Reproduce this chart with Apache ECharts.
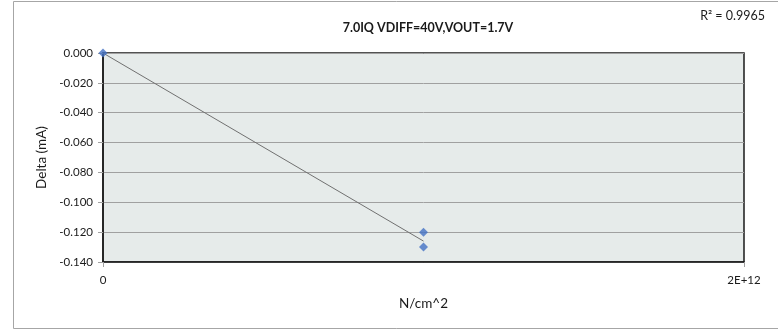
<!DOCTYPE html>
<html>
<head>
<meta charset="utf-8">
<script src="https://cdn.jsdelivr.net/npm/echarts@6/dist/echarts.min.js"></script>
<style>
html,body{margin:0;padding:0;background:#fff;}
#chart{width:778px;height:333px;}
</style>
</head>
<body>
<div id="chart"></div>
<script>
// Data
const pointX = [0, 1e12, 1e12];
const pointY = [0.000, -0.120, -0.130];
const trendX = [0, 1e12];
const trendY = [0.000, -0.126];
const chartTitle = '7.0IQ VDIFF=40V,VOUT=1.7V';
const rSquaredText = 'R² = 0.9965';
const yAxisName = 'Delta (mA)';
const xAxisName = 'N/cm^2';
const xTickLabels = {0: '0', 2000000000000: '2E+12'};

const FONT = 'Lato, "Open Sans", sans-serif';
const chart = echarts.init(document.getElementById('chart'));
chart.setOption({
  animation: false,
  backgroundColor: '#fff',
  textStyle: {fontFamily: FONT},
  title: [
    {text: chartTitle, left: 423, top: 16, textAlign: 'center',
     textStyle: {fontFamily: FONT, fontSize: 12.5, fontWeight: 'bold', color: '#1a1a1a'}},
    {text: rSquaredText, right: 8, top: 4,
     textStyle: {fontFamily: FONT, fontSize: 12.5, fontWeight: 'normal', color: '#1a1a1a'}}
  ],
  graphic: [
    {type: 'rect', shape: {x: 13.5, y: 1.5, width: 800, height: 327},
     style: {fill: 'none', stroke: '#a6a6a6', lineWidth: 1}, silent: true, z: -1}
  ],
  grid: {left: 103, top: 53, width: 641, height: 209, show: true,
         backgroundColor: '#e6ebea', borderColor: '#1a1a1a', borderWidth: 1.5},
  xAxis: {
    type: 'value', min: 0, max: 2e12, interval: 2e12,
    name: xAxisName, nameLocation: 'middle', nameGap: 35,
    nameTextStyle: {fontFamily: FONT, fontSize: 13.5, color: '#1a1a1a'},
    axisLine: {show: true, onZero: false, lineStyle: {color: '#1a1a1a', width: 1.5}},
    axisTick: {show: true, length: 5, lineStyle: {color: '#a0a0a0'}},
    axisLabel: {fontFamily: FONT, fontSize: 11.5, color: '#1a1a1a', margin: 12,
                formatter: v => (xTickLabels[v] !== undefined ? xTickLabels[v] : String(v))},
    splitLine: {show: false}
  },
  yAxis: {
    type: 'value', min: -0.14, max: 0, interval: 0.02,
    name: yAxisName, nameLocation: 'middle', nameGap: 53, nameRotate: 90,
    nameTextStyle: {fontFamily: FONT, fontSize: 13.5, color: '#1a1a1a'},
    axisLine: {show: true, lineStyle: {color: '#1a1a1a', width: 1.5}},
    axisTick: {show: true, length: 5, lineStyle: {color: '#a0a0a0'}},
    axisLabel: {fontFamily: FONT, fontSize: 11.5, color: '#1a1a1a', margin: 10,
                formatter: v => v.toFixed(3)},
    splitLine: {show: true, lineStyle: {color: '#a0a0a0', width: 1}}
  },
  series: [
    {type: 'line', data: trendX.map((x, i) => [x, trendY[i]]), symbol: 'none',
     lineStyle: {color: '#707070', width: 1}, z: 2},
    {type: 'scatter', data: pointX.map((x, i) => [x, pointY[i]]), symbol: 'diamond',
     symbolSize: 9, itemStyle: {color: '#4472c4'}, z: 3}
  ]
});
</script>
</body>
</html>
